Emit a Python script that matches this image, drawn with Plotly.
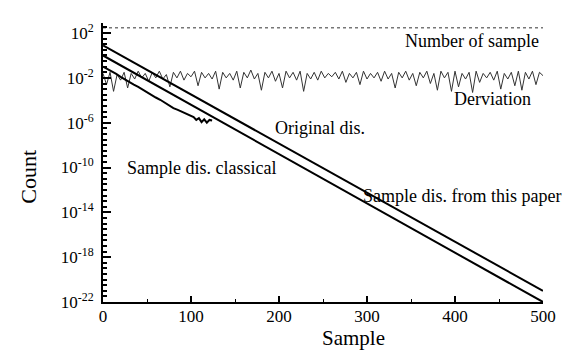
import plotly.graph_objects as go

# ---- data ----
line_x = [0, 500]
paper_exp = [0.9, -21.0]          # "Sample dis. from this paper"
original_exp = [0.0, -22.0]       # "Original dis."

number_x = [0, 500]
number_of_sample = [300, 300]

classical_x = [0, 5, 10, 15, 20, 25, 30, 35, 40, 45, 50, 55, 60, 65, 70, 75, 80,
               85, 90, 95, 100, 103, 106, 109, 112, 115, 118, 121, 124]
classical_exp = [-1.0, -1.2, -1.45, -1.65, -1.9, -2.15, -2.35, -2.6, -2.8, -3.05,
                 -3.3, -3.5, -3.75, -3.95, -4.2, -4.45, -4.7, -4.85, -5.05, -5.2,
                 -5.45, -5.5, -5.75, -5.6, -5.95, -5.7, -6.0, -5.75, -5.8]

dev_x = list(range(0, 501, 4))
dev_exp = [
    -1.6, -2.6, -1.5, -3.2, -1.7, -2.2, -1.5, -2.9, -1.6, -2.1,
    -1.4, -2.0, -1.6, -2.3, -1.5, -2.0, -1.4, -2.1, -1.7, -2.8,
    -1.5, -2.0, -1.4, -2.2, -1.6, -1.9, -1.4, -2.7, -1.5, -2.0,
    -1.6, -2.1, -1.4, -3.0, -1.5, -2.0, -1.6, -2.2, -1.4, -2.9,
    -1.5, -2.0, -1.3, -2.1, -1.6, -3.1, -1.5, -2.0, -1.4, -2.3,
    -1.6, -2.9, -1.4, -2.0, -1.5, -2.2, -1.4, -3.2, -1.6, -2.1,
    -1.5, -2.2, -1.4, -2.0, -1.6, -1.9, -1.5, -2.1, -1.4, -2.4,
    -1.6, -2.0, -1.5, -2.6, -1.4, -2.1, -1.6, -2.0, -1.5, -2.3,
    -1.4, -2.1, -1.6, -2.9, -1.5, -2.0, -1.4, -2.2, -1.6, -2.7,
    -1.5, -2.0, -1.4, -2.5, -1.6, -3.1, -1.4, -2.0, -1.5, -3.2,
    -1.4, -2.8, -1.6, -2.1, -1.5, -3.3, -1.4, -2.4, -1.6, -2.0,
    -1.5, -2.2, -1.4, -3.0, -1.6, -2.1, -1.5, -2.7, -1.4, -3.1,
    -1.5, -2.1, -1.4, -2.6, -1.5, -1.8,
]

y_tick_exp = [2, -2, -6, -10, -14, -18, -22]
x_ticks = [0, 100, 200, 300, 400, 500]

# ---- figure ----
FONT = "Liberation Serif, Times New Roman, serif"

fig = go.Figure()
fig.add_trace(go.Scatter(x=number_x, y=number_of_sample, mode="lines",
                         line=dict(color="#777777", width=1.5, dash="dot")))
fig.add_trace(go.Scatter(x=dev_x, y=[10 ** e for e in dev_exp], mode="lines",
                         line=dict(color="#333333", width=1)))
fig.add_trace(go.Scatter(x=line_x, y=[10 ** e for e in paper_exp], mode="lines",
                         line=dict(color="black", width=2)))
fig.add_trace(go.Scatter(x=line_x, y=[10 ** e for e in original_exp], mode="lines",
                         line=dict(color="black", width=2)))
fig.add_trace(go.Scatter(x=classical_x, y=[10 ** e for e in classical_exp], mode="lines",
                         line=dict(color="black", width=2)))

ann = dict(showarrow=False, font=dict(family=FONT, size=18, color="black"),
           xref="x", yref="y")
fig.add_annotation(text="Number of sample", x=498, y=1.29, xanchor="right", **ann)
fig.add_annotation(text="Derviation", x=489, y=-3.9, xanchor="right", **ann)
fig.add_annotation(text="Original dis.", x=193, y=-6.5, xanchor="left", **ann)
fig.add_annotation(text="Sample dis. classical", x=25, y=-10.0, xanchor="left", **ann)

pap = dict(showarrow=False, xref="paper", yref="paper")
fig.add_annotation(text="Sample dis. from this paper", x=1.045, y=0.38,
                   xanchor="right", yanchor="middle",
                   font=dict(family=FONT, size=18, color="black"), **pap)

# axis titles
fig.add_annotation(text="Sample", x=0.57, y=-0.13, xanchor="center", yanchor="middle",
                   font=dict(family=FONT, size=21, color="black"), **pap)
fig.add_annotation(text="Count", x=-0.17, y=0.45, xanchor="center", yanchor="middle",
                   textangle=-90, font=dict(family=FONT, size=22, color="black"), **pap)

fig.update_layout(
    width=572, height=353,
    margin=dict(l=95, r=37, t=15, b=59),
    paper_bgcolor="white", plot_bgcolor="white",
    showlegend=False,
    font=dict(family=FONT, size=17, color="black"),
)
fig.update_xaxes(
    range=[0, 500], showgrid=False, zeroline=False,
    showline=True, linecolor="black", linewidth=2,
    ticks="inside", ticklen=6, tickwidth=1.5, tickcolor="black",
    tickvals=x_ticks, ticktext=[str(v) for v in x_ticks],
    ticklabelstandoff=-2,
    minor=dict(tickvals=[50, 150, 250, 350, 450], ticks="inside", ticklen=3,
               tickcolor="black", tickwidth=1),
)
fig.update_yaxes(
    type="log", range=[-22, 2.9], showgrid=False, zeroline=False,
    showline=True, linecolor="black", linewidth=2,
    ticks="inside", ticklen=8, tickwidth=1.5, tickcolor="black",
    tickvals=[10 ** e for e in y_tick_exp],
    ticktext=[f"10<sup>{e}</sup>" for e in y_tick_exp],
    ticklabelstandoff=4,
    minor=dict(tickvals=[10 ** (k / 2) for k in range(-44, 6)], ticks="inside", ticklen=4,
               tickcolor="black", tickwidth=1.5),
)

fig.write_html("out.html")
